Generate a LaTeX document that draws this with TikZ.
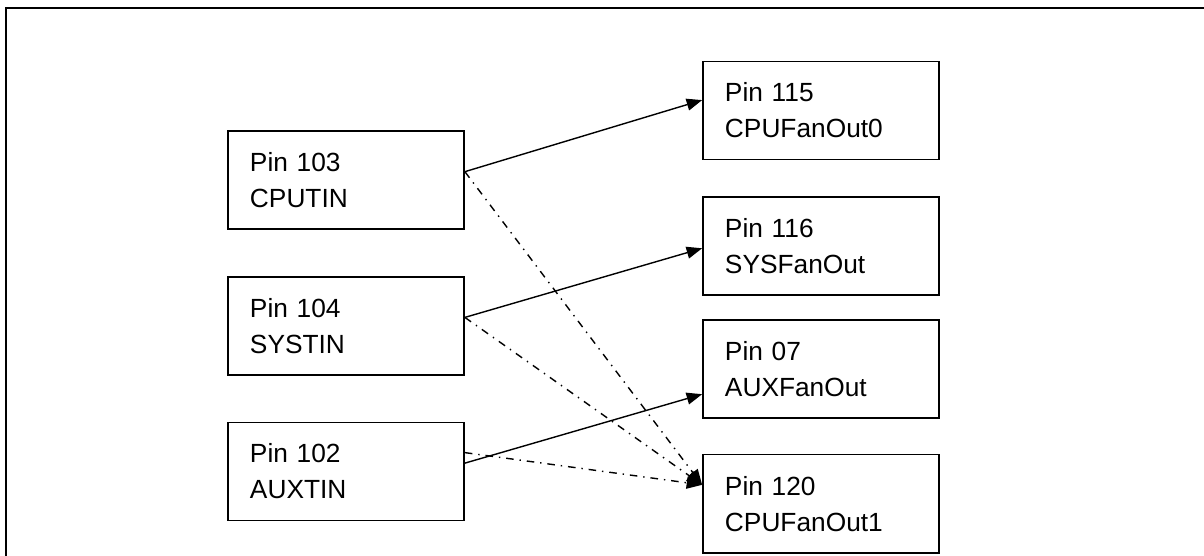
\documentclass[tikz,border=0pt]{standalone}
\usepackage{fontspec}
\setmainfont{Liberation Sans}
\usetikzlibrary{arrows.meta,positioning}

\tikzset{
    pinbox/.style={draw, line width=1.2pt, rectangle, text width=4.8cm, inner xsep=0.55cm,
        minimum height=2.45cm, align=left, font=\fontsize{18.7pt}{25.6pt}\selectfont},
    link/.style={-{Triangle[length=11pt, width=8.5pt]}, line width=1pt},
    crosslink/.style={link, dash pattern=on 5.4pt off 4.2pt on 1pt off 4.2pt},
}

\begin{document}
\begin{tikzpicture}[x=0.025cm, y=-0.025cm]
    \useasboundingbox (0,0) rectangle (1204,556);
    % Frame
    \draw[line width=2pt] (6,556) |- (1204,8);

    % Inputs
    \node[pinbox] (cputin) at (346,180) {Pin 103\\CPUTIN};
    \node[pinbox, below=1.15cm of cputin] (systin) {Pin 104\\SYSTIN};
    \node[pinbox, below=1.15cm of systin] (auxtin) {Pin 102\\AUXTIN};

    % Fan outputs
    \node[pinbox] (cpufan0) at (821,110.5) {Pin 115\\CPUFanOut0};
    \node[pinbox, below=0.9cm of cpufan0] (sysfan) {Pin 116\\SYSFanOut};
    \node[pinbox, below=0.575cm of sysfan] (auxfan) {Pin 07\\AUXFanOut};
    \node[pinbox, below=0.875cm of auxfan] (cpufan1) {Pin 120\\CPUFanOut1};

    % Direct links
    \draw[link] (cputin.4) -- (cpufan0.175);
    \draw[link] (systin.4) -- (sysfan.181);
    \draw[link] (auxtin.4) -- (auxfan.192);

    % Links to CPUFanOut1
    \draw[crosslink] (cputin.4) -- (cpufan1.171);
    \draw[crosslink] (systin.4) -- (cpufan1.171);
    \draw[crosslink] (auxtin.9) -- (cpufan1.171);
\end{tikzpicture}
\end{document}
